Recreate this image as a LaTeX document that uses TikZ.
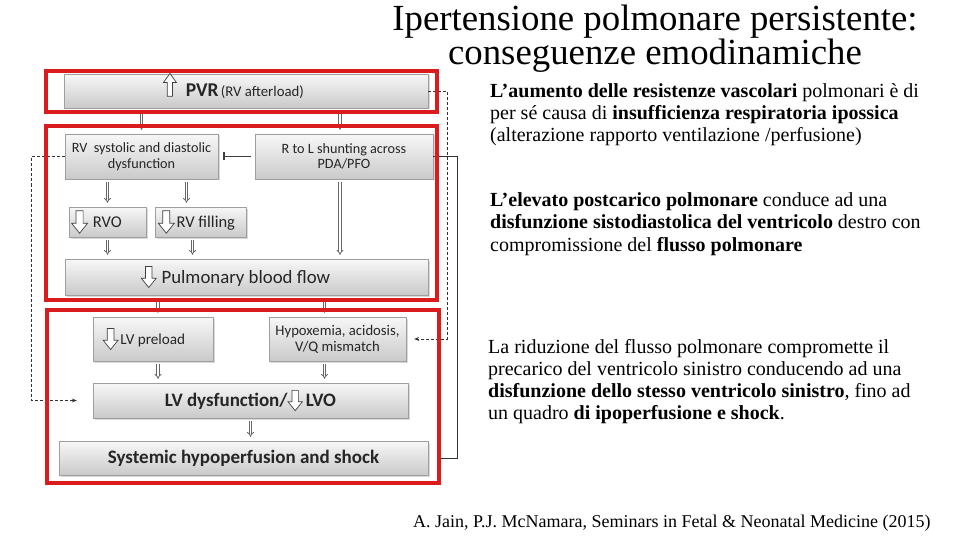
\documentclass[tikz,border=0pt]{standalone}
\usepackage{fontspec}
\setmainfont{Liberation Serif}
\newfontfamily\diagfont{Carlito}
\usepackage{tikz}
\usetikzlibrary{arrows.meta, positioning, shadows}

\definecolor{framered}{RGB}{218,28,30}
\newcommand{\fs}[2]{\fontsize{#1}{#2}\selectfont}
% hollow block arrows used inside the box labels
\newcommand{\dnicon}[1][15]{\tikz[x=#1pt, y=#1pt, baseline={([yshift=-0.33em]current bounding box.center)}]
  \draw[line width=0.7pt, draw=black!75, fill=white, line join=miter] (0.28,1.4) -- (0.72,1.4) -- (0.72,0.62) -- (1,0.62) -- (0.5,0) -- (0,0.62) -- (0.28,0.62) -- cycle;}
\newcommand{\upicon}[1][13]{\tikz[x=#1pt, y=#1pt, baseline={(0,0.08)}]
  \draw[line width=0.7pt, draw=black!75, fill=white, line join=miter] (0.3,0) -- (0.7,0) -- (0.7,1.05) -- (1,1.05) -- (0.5,1.75) -- (0,1.05) -- (0.3,1.05) -- cycle;}

\begin{document}
\begin{tikzpicture}[x=1pt, y=-1pt, >=Stealth,
    box/.style={rectangle, draw=gray!75, top color=gray!6, bottom color=gray!42, inner sep=0pt, align=center, text=black!85, font=\diagfont,
      drop shadow={shadow xshift=1.5pt, shadow yshift=-1.5pt, opacity=0.3}},
    flow/.style={double=white, double distance=1.5pt, line width=0.8pt, draw=black!60, -{Implies}, shorten <=3pt, shorten >=4pt},
    link/.style={densely dashed, line width=0.8pt, draw=black!80, -{Stealth[length=5pt, width=4pt]}},
    frame/.style={draw=framered, line width=4.5pt},
    para/.style={anchor=base west, align=left, inner sep=0pt, font=\fs{20}{22.3}}]
  \useasboundingbox (0,0) rectangle (960,540);
  % diagram boxes
  \node[box, minimum width=364pt, minimum height=34pt] (pvr) at (246,91) {\smash{\upicon}\hspace{9pt}{\fs{19.5}{22}\textbf{PVR}} {\fs{14.8}{16}(RV afterload)}\hspace*{25pt}};
  \node[box, minimum width=153pt, minimum height=45pt, font=\diagfont\fs{14.2}{15.5}] (rvdys) at (141.5,156.5) {RV\ \ systolic and diastolic\\dysfunction};
  \node[box, minimum width=178pt, minimum height=45pt, font=\diagfont\fs{14.2}{15.5}] (rtol) at (344,156.5) {R to L shunting across\\PDA/PFO};
  \node[box, minimum width=77pt, minimum height=30pt, font=\diagfont\fs{16.5}{18}] (rvo) at (107.5,222) {\dnicon[16]\hspace{5pt}RVO\hspace*{22pt}};
  \node[box, minimum width=91pt, minimum height=30pt, font=\diagfont\fs{16.5}{18}] (rvfill) at (200.5,222) {\dnicon[16]\hspace{2pt}RV filling\hspace*{8pt}};
  \node[box, minimum width=363pt, minimum height=36pt, font=\diagfont\fs{18.8}{20}] (pbf) at (246.5,277) {\dnicon[15]\hspace{5pt}Pulmonary blood flow\hspace*{22pt}};
  \node[box, minimum width=120pt, minimum height=44pt, font=\diagfont\fs{15.2}{17}] (lvpre) at (153,339) {\dnicon[15]\hspace{2pt}LV preload\hspace*{18pt}};
  \node[box, minimum width=137pt, minimum height=44pt, font=\diagfont\fs{14.7}{16}] (hypox) at (337.5,339) {Hypoxemia, acidosis,\\V/Q mismatch};
  \node[box, minimum width=315pt, minimum height=35pt, font=\diagfont\fs{19}{20}\bfseries] (lvdys) at (250.5,400.5) {LV dysfunction/\dnicon[14.5]\hspace{3pt}LVO};
  \node[box, minimum width=369pt, minimum height=34pt, font=\diagfont\fs{19}{20}\bfseries] (shock) at (243.5,458) {Systemic hypoperfusion and shock};

  % small arrows
  \draw[flow] (pvr.south -| rvdys.north) -- (rvdys.north);
  \draw[flow] ([xshift=-4pt]rtol.north |- pvr.south) -- ([xshift=-4pt]rtol.north);
  \draw[flow] (rvdys.south -| rvo.north) -- (rvo.north);
  \draw[flow] ([xshift=-14pt]rvfill.north |- rvdys.south) -- ([xshift=-14pt]rvfill.north);
  \draw[flow] (rvo.south) -- (rvo.south |- pbf.north);
  \draw[flow] ([xshift=-8pt]rvfill.south) -- ([xshift=-8pt]rvfill.south |- pbf.north);
  \draw[flow] ([xshift=-4pt]rtol.south) -- ([xshift=-4pt]rtol.south |- pbf.north);
  \draw[flow] ([xshift=5pt]lvpre.north |- pbf.south) -- ([xshift=5pt]lvpre.north);
  \draw[flow] ([xshift=-13pt]hypox.north |- pbf.south) -- ([xshift=-13pt]hypox.north);
  \draw[flow] ([xshift=5pt]lvpre.south) -- ([xshift=5pt]lvpre.south |- lvdys.north);
  \draw[flow] ([xshift=-13pt]hypox.south) -- ([xshift=-13pt]hypox.south |- lvdys.north);
  \draw[flow] (lvdys.south) -- (lvdys.south |- shock.north);

  % feedback lines
  \draw[line width=1.6pt, draw=black!75, -{Bar[width=8pt]}, shorten <=4pt, shorten >=5pt] (rtol.west) -- (rvdys.east);
  \draw[link, shorten >=8pt] (pvr.east) -- ++(19,0) |- (hypox.east);
  \draw[link, shorten >=16pt] (rvdys.west) -- ++(-33,0) |- (lvdys.west);
  \draw[line width=1pt, draw=black!80, shorten >=9pt] (rtol.east) -- ++(24,0) |- (shock.east);

  % red frames
  \draw[frame] (46,71) rectangle (437,112);
  \draw[frame] (46,126) rectangle (437,300);
  \draw[frame] (47,310) rectangle (439,483);

  % title and text
  \node[anchor=base, align=center, inner sep=0pt, font=\fs{36.8}{32}] (title) at (655,65) {Ipertensione polmonare persistente:\\conseguenze emodinamiche};
  \node[para] (p1) at (490,142) {\textbf{L’aumento delle resistenze vascolari} polmonari è di\\per sé causa di \textbf{insufficienza respiratoria ipossica}\\(alterazione rapporto ventilazione /perfusione)};
  \node[para] (p2) at (490,251) {\textbf{L’elevato postcarico polmonare} conduce ad una\\\textbf{disfunzione sistodiastolica del ventricolo} destro con\\compromissione del \textbf{flusso polmonare}};
  \node[para, font=\fs{20}{22}] (p3) at (488,419) {La riduzione del flusso polmonare compromette il\\precarico del ventricolo sinistro conducendo ad una\\\textbf{disfunzione dello stesso ventricolo sinistro}, fino ad\\un quadro \textbf{di ipoperfusione e shock}.};
  \node[anchor=base west, inner sep=0pt, font=\fs{18}{21}] (cite) at (413,527) {A. Jain, P.J. McNamara, Seminars in Fetal \& Neonatal Medicine (2015)};
\end{tikzpicture}
\end{document}
